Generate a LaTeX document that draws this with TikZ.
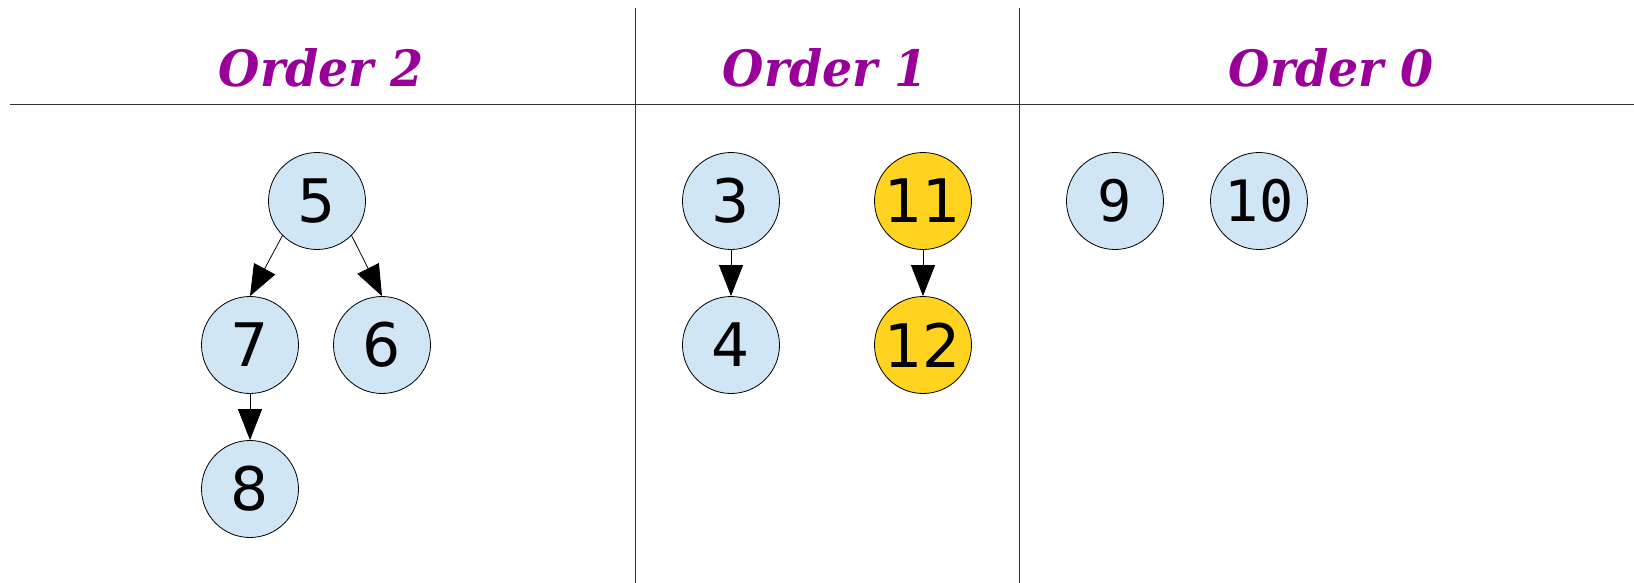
\documentclass[tikz,border=0pt]{standalone}
\usepackage{fontspec}
\usetikzlibrary{arrows.meta}
\newfontfamily\titlefont[FakeStretch=0.95]{DejaVu Serif}
\newfontfamily\numfont{DejaVu Sans}
\newfontfamily\monofnt{DejaVu Sans Mono}
\definecolor{heapblue}{HTML}{D0E6F4}
\definecolor{heapgold}{HTML}{FFD320}
\definecolor{titlepurple}{HTML}{990099}
\begin{document}
\begin{tikzpicture}[x=1pt,y=-1pt,
  heading/.style={font=\titlefont\bfseries\itshape\fontsize{50}{56}\selectfont, text=titlepurple, anchor=base, inner sep=0pt},
  heapnode/.style={circle, draw=black, line width=0.8pt, fill=heapblue, minimum size=97pt, inner sep=0pt, font=\numfont\fontsize{60}{62}\selectfont},
  goldnode/.style={heapnode, fill=heapgold},
  loose/.style={heapnode, font=\monofnt\fontsize{57}{58}\selectfont},
  arr/.style={draw=black, line width=0.8pt, -{Triangle[length=31pt,width=24pt]}},
  rule/.style={draw=black!80, line width=1pt}]
\useasboundingbox (0,0) rectangle (1634,583);
% grid
\coordinate (hl) at (10,105);
\coordinate (hr) at (1634,105);
\coordinate (v1t) at (635,8);
\coordinate (v1b) at (635,583);
\coordinate (v2t) at (1019,8);
\coordinate (v2b) at (1019,583);
\draw[rule] (hl) -- (hr);
\draw[rule] (v1t) -- (v1b);
\draw[rule] (v2t) -- (v2b);
% headings
\node[heading] (t2) at (321,87) {Order 2};
\node[heading] (t1) at (825,87) {Order 1};
\node[heading] (t0) at (1331,87) {Order 0};
% order 2 tree
\node[heapnode] (n5) at (317,201) {5};
\node[heapnode] (n7) at (250,345) {7};
\node[heapnode] (n6) at (382,345) {6};
\node[heapnode] (n8) at (250,489) {8};
\draw[arr] (n5.225) -- (n7.north);
\draw[arr] (n5.-45) -- (n6.north);
\draw[arr] (n7.south) -- (n8.north);
% order 1 trees
\node[heapnode] (n3) at (731,201) {3};
\node[heapnode] (n4) at (731,345) {4};
\draw[arr] (n3.south) -- (n4.north);
\node[goldnode] (n11) at (923,201) {11};
\node[goldnode] (n12) at (923,345) {12};
\draw[arr] (n11.south) -- (n12.north);
% order 0 trees
\node[loose] (n9) at (1115,201) {9};
\node[loose] (n10) at (1259,201) {10};
\end{tikzpicture}
\end{document}
